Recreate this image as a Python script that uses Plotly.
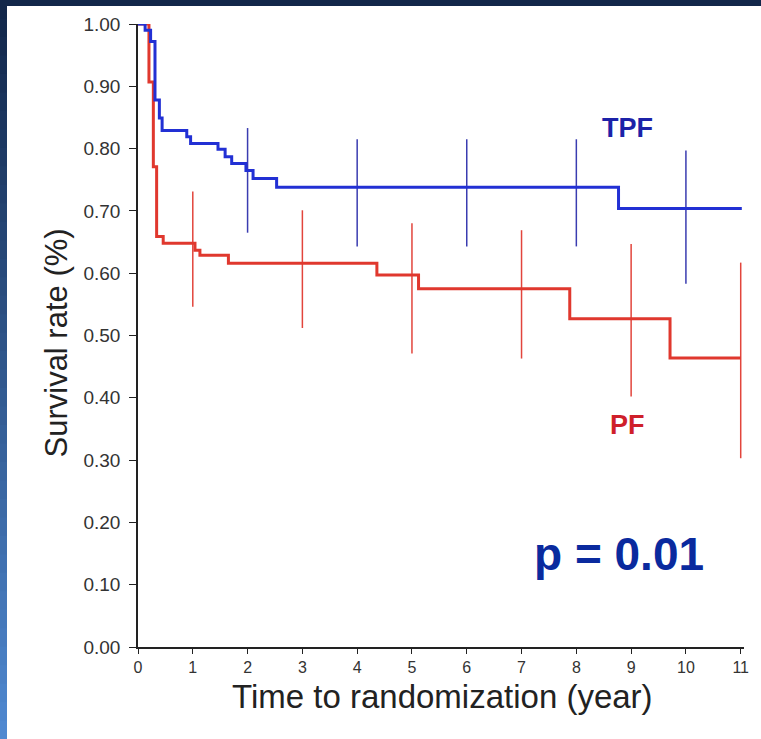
import plotly.graph_objects as go

# --- Data ---
tpf_time = [0, 0.13, 0.23, 0.31, 0.39, 0.44, 0.89, 0.96, 1.46, 1.59, 1.71, 1.97, 2.10, 2.53, 8.77, 11.02]
tpf_surv = [1.00, 0.990, 0.972, 0.878, 0.849, 0.829, 0.819, 0.808, 0.799, 0.787, 0.776, 0.765, 0.752, 0.738, 0.704, 0.704]

pf_time = [0, 0.20, 0.28, 0.34, 0.46, 1.04, 1.13, 1.65, 4.36, 5.12, 7.88, 9.71, 11.0]
pf_surv = [1.00, 0.907, 0.771, 0.659, 0.648, 0.637, 0.629, 0.616, 0.597, 0.575, 0.527, 0.464, 0.464]

tpf_ci_time = [2, 4, 6, 8, 10]
tpf_ci_low = [0.665, 0.643, 0.643, 0.643, 0.583]
tpf_ci_high = [0.833, 0.815, 0.815, 0.815, 0.797]

pf_ci_time = [1, 3, 5, 7, 9, 11]
pf_ci_low = [0.546, 0.512, 0.471, 0.463, 0.402, 0.303]
pf_ci_high = [0.731, 0.701, 0.680, 0.669, 0.647, 0.617]

x_ticks = list(range(0, 12))
y_ticks = [0.0, 0.1, 0.2, 0.3, 0.4, 0.5, 0.6, 0.7, 0.8, 0.9, 1.0]


def segs(ts, lo, hi):
    xs, ys = [], []
    for t, a, b in zip(ts, lo, hi):
        xs += [t, t, None]
        ys += [a, b, None]
    return xs, ys


fig = go.Figure()

cx, cy = segs(pf_ci_time, pf_ci_low, pf_ci_high)
fig.add_trace(go.Scatter(x=cx, y=cy, mode="lines", line=dict(color="#e2453c", width=1.5),
                         showlegend=False, hoverinfo="skip", cliponaxis=False))
cx, cy = segs(tpf_ci_time, tpf_ci_low, tpf_ci_high)
fig.add_trace(go.Scatter(x=cx, y=cy, mode="lines", line=dict(color="#3a3cb0", width=1.5),
                         showlegend=False, hoverinfo="skip", cliponaxis=False))

fig.add_trace(go.Scatter(x=pf_time, y=pf_surv, mode="lines", line=dict(color="#e0382e", width=3, shape="hv"),
                         name="PF", showlegend=False, cliponaxis=False))
fig.add_trace(go.Scatter(x=tpf_time, y=tpf_surv, mode="lines", line=dict(color="#2230d4", width=3, shape="hv"),
                         name="TPF", showlegend=False, cliponaxis=False))

L, R, T, B = 138, 744, 24, 647
W, H = 761, 739
pw, ph = R - L, B - T


def px(x):
    return (x - L) / pw


def py(y):
    return (B - y) / ph


shapes = []
# top dark band
shapes.append(dict(type="rect", xref="paper", yref="paper", x0=px(0), x1=px(W), y0=py(6), y1=py(0),
                   fillcolor="#12274a", line=dict(width=0), layer="above"))
# left gradient band
n = 40
c0 = (0x12, 0x27, 0x4a)
c1 = (0x4f, 0x88, 0xd0)
for i in range(n):
    f = i / (n - 1)
    col = "rgb(%d,%d,%d)" % tuple(int(c0[k] + (c1[k] - c0[k]) * f) for k in range(3))
    y0 = H * i / n
    y1 = H * (i + 1) / n + 1
    shapes.append(dict(type="rect", xref="paper", yref="paper", x0=px(0), x1=px(7),
                       y0=py(y1), y1=py(y0), fillcolor=col, line=dict(width=0), layer="above"))

annotations = [
    dict(x=8.94, y=0.833, xref="x", yref="y", text="<b>TPF</b>", showarrow=False,
         font=dict(family="Liberation Sans, Arial", size=27, color="#1c22a8")),
    dict(x=8.94, y=0.356, xref="x", yref="y", text="<b>PF</b>", showarrow=False,
         font=dict(family="Liberation Sans, Arial", size=27, color="#cf1f2a")),
    dict(x=8.77, y=0.150, xref="x", yref="y", text="<b>p = 0.01</b>", showarrow=False,
         font=dict(family="Liberation Sans, Arial", size=46, color="#0a2a9e")),
    dict(x=px(36), y=py(343), xref="paper", yref="paper", text="Survival rate (%)", showarrow=False,
         textangle=-90, font=dict(family="Liberation Sans, Arial", size=31, color="#222222")),
    dict(x=px(442), y=py(717), xref="paper", yref="paper", text="Time to randomization (year)",
         showarrow=False, font=dict(family="Liberation Sans, Arial", size=33, color="#222222")),
]

axis_common = dict(showgrid=False, zeroline=False)

fig.update_layout(
    width=W, height=H,
    margin=dict(l=L, r=W - R, t=T, b=H - B, pad=0),
    paper_bgcolor="white", plot_bgcolor="white",
    shapes=shapes, annotations=annotations,
    showlegend=False,
    xaxis=dict(range=[0, 11.06], tickvals=x_ticks, ticktext=[str(v) for v in x_ticks],
               showline=True, linecolor="#222222", linewidth=1.5,
               ticks="outside", ticklen=5, tickcolor="#222222", tickwidth=1.2,
               tickfont=dict(family="Liberation Sans, Arial", size=16, color="#333333"),
               **axis_common),
    yaxis=dict(range=[0, 1.0], tickvals=y_ticks, ticktext=["%.2f" % v for v in y_ticks],
               showline=True, linecolor="#222222", linewidth=1.5,
               ticks="outside", ticklen=7, tickcolor="#222222", tickwidth=1.2,
               ticklabelstandoff=5,
               tickfont=dict(family="Liberation Sans, Arial", size=19, color="#333333"),
               **axis_common),
    xaxis2=dict(range=[0, 11.06], overlaying="x", anchor="y", side="bottom", tickvals=x_ticks,
                showticklabels=False, showline=False, ticks="inside", ticklen=4,
                tickcolor="#222222", tickwidth=1.2, **axis_common),
    yaxis2=dict(range=[0, 1.0], overlaying="y", anchor="x", side="left", tickvals=y_ticks,
                showticklabels=False, showline=False, ticks="inside", ticklen=3,
                tickcolor="#222222", tickwidth=1.2, **axis_common),
)

fig.write_html("out.html", config={"displayModeBar": False},
               post_script="document.body.style.margin='0';")
